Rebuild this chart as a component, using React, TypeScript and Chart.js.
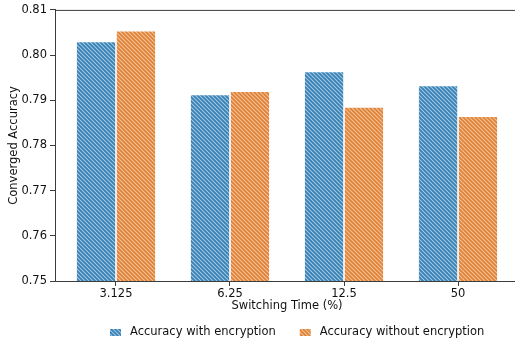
import React, { useEffect, useRef } from 'react';
import { Chart, registerables } from 'chart.js';

Chart.register(...registerables);

const categories = ['3.125', '6.25', '12.5', '50'];
const withEncryption = [0.803, 0.7913, 0.7964, 0.7933];
const withoutEncryption = [0.8054, 0.792, 0.7885, 0.7865];
const yTickValues = [0.75, 0.76, 0.77, 0.78, 0.79, 0.8, 0.81];
const seriesLabels = ['Accuracy with encryption', 'Accuracy without encryption'];
const xTitle = 'Switching Time (%)';
const yTitle = 'Converged Accuracy';

const FONT = '"DejaVu Sans", sans-serif';
const FS = 11.5;
const SPINE = '#3c3c3c';
const TEXT = '#111';

function makePattern(base: string, light: string): CanvasPattern | string {
  const tile = document.createElement('canvas');
  tile.width = 4;
  tile.height = 4;
  const c = tile.getContext('2d');
  if (!c) return base;
  c.fillStyle = base;
  c.fillRect(0, 0, 4, 4);
  c.strokeStyle = light;
  c.lineWidth = 1.1;
  for (const off of [-4, 0, 4]) {
    c.beginPath();
    c.moveTo(off - 1, -1);
    c.lineTo(off + 5, 5);
    c.stroke();
  }
  const p = c.createPattern(tile, 'repeat');
  return p || base;
}

export default function App() {
  const ref = useRef<HTMLCanvasElement | null>(null);

  useEffect(() => {
    const canvas = ref.current;
    if (!canvas) return;
    const blue = makePattern('#3880b4', 'rgba(165,203,230,0.95)');
    const orange = makePattern('#de8238', 'rgba(246,198,156,0.95)');
    const fills = [blue, orange];

    const framePlugin = {
      id: 'frame',
      afterDraw(chart: any) {
        const { ctx, chartArea } = chart;
        ctx.save();
        ctx.strokeStyle = SPINE;
        ctx.lineWidth = 1;
        ctx.beginPath();
        ctx.moveTo(chartArea.left, chartArea.top + 0.5);
        ctx.lineTo(chartArea.right, chartArea.top + 0.5);
        ctx.moveTo(chartArea.right - 0.5, chartArea.top);
        ctx.lineTo(chartArea.right - 0.5, chartArea.bottom);
        ctx.stroke();

        // legend
        ctx.font = `${FS}px ${FONT}`;
        ctx.textBaseline = 'middle';
        ctx.fillStyle = TEXT;
        const patchW = 11;
        const patchH = 7;
        const gapPT = 9;
        const gapItems = 24;
        const w1 = ctx.measureText(seriesLabels[0]).width;
        const w2 = ctx.measureText(seriesLabels[1]).width;
        const total = patchW + gapPT + w1 + gapItems + patchW + gapPT + w2;
        const center = (chartArea.left + chartArea.right) / 2 + 10;
        let x = Math.round(center - total / 2);
        const yc = chartArea.bottom + 51;
        const widths = [w1, w2];
        for (let i = 0; i < 2; i++) {
          ctx.fillStyle = fills[i] as any;
          ctx.fillRect(x, Math.round(yc - patchH / 2), patchW, patchH);
          x += patchW + gapPT;
          ctx.fillStyle = TEXT;
          ctx.textAlign = 'left';
          ctx.fillText(seriesLabels[i], x, yc);
          x += widths[i] + gapItems;
        }
        ctx.restore();
      },
    };

    const chart = new Chart(canvas, {
      type: 'bar',
      data: {
        datasets: [
          {
            label: seriesLabels[0],
            data: withEncryption.map((v, i) => ({ x: i, y: v })),
            backgroundColor: blue as any,
            borderColor: 'rgba(255,255,255,0.7)',
            borderWidth: 0.8,
            categoryPercentage: 0.7,
            barPercentage: 1.0,
          },
          {
            label: seriesLabels[1],
            data: withoutEncryption.map((v, i) => ({ x: i, y: v })),
            backgroundColor: orange as any,
            borderColor: 'rgba(255,255,255,0.7)',
            borderWidth: 0.8,
            categoryPercentage: 0.7,
            barPercentage: 1.0,
          },
        ],
      },
      options: {
        animation: false,
        responsive: false,
        devicePixelRatio: 1,
        layout: { padding: { left: 0, right: 11, top: 8, bottom: 0 } },
        plugins: {
          legend: { display: false },
          tooltip: { enabled: false },
        },
        scales: {
          x: {
            type: 'linear',
            offset: false,
            min: -0.535,
            max: 3.535,
            afterBuildTicks: (scale: any) => {
              scale.ticks = categories.map((_, i) => ({ value: i }));
            },
            afterFit: (scale: any) => {
              scale.height = 64;
            },
            ticks: {
              autoSkip: false,
              maxRotation: 0,
              padding: 1,
              color: TEXT,
              font: { family: FONT, size: FS },
              callback: (v: any) => categories[Math.round(Number(v))] ?? '',
            },
            grid: {
              display: true,
              offset: false,
              drawOnChartArea: false,
              drawTicks: true,
              tickLength: 5,
              color: SPINE,
            },
            border: { display: true, color: SPINE, width: 1 },
            title: {
              display: true,
              text: xTitle,
              color: TEXT,
              font: { family: FONT, size: FS },
              padding: { top: 0, bottom: 32 },
            },
          },
          y: {
            type: 'linear',
            min: 0.75,
            max: 0.81,
            afterBuildTicks: (scale: any) => {
              scale.ticks = yTickValues.map((v) => ({ value: v }));
            },
            afterFit: (scale: any) => {
              scale.width = 55;
            },
            ticks: {
              padding: 3,
              color: TEXT,
              font: { family: FONT, size: FS },
              callback: (v: any) => Number(v).toFixed(2),
            },
            grid: {
              display: true,
              drawOnChartArea: false,
              drawTicks: true,
              tickLength: 5,
              color: SPINE,
            },
            border: { display: true, color: SPINE, width: 1 },
            title: {
              display: true,
              text: yTitle,
              color: TEXT,
              font: { family: FONT, size: FS },
              padding: { top: 7, bottom: 0 },
            },
          },
        },
      },
      plugins: [framePlugin],
    });
    return () => chart.destroy();
  }, []);

  return (
    <div
      style={{
        position: 'fixed',
        left: 0,
        top: 0,
        width: 515,
        height: 345,
        overflow: 'hidden',
        background: '#fff',
      }}
    >
      <canvas ref={ref} width={530} height={345} style={{ display: 'block', width: 530, height: 345 }} />
    </div>
  );
}
